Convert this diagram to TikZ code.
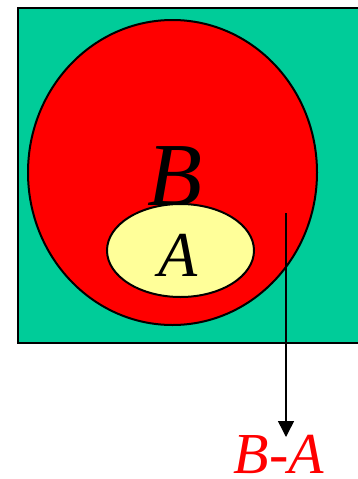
\documentclass[tikz,border=0pt]{standalone}
\usepackage{fontspec}
\setmainfont{Liberation Serif}
\usetikzlibrary{arrows.meta}
\definecolor{setgreen}{HTML}{00CC99}
\definecolor{setred}{HTML}{FF0000}
\definecolor{setyellow}{HTML}{FFFF99}
\begin{document}
\begin{tikzpicture}[x=1pt,y=-1pt,>=Stealth,
  outline/.style={draw=black,line width=2pt},
  setlabel/.style={inner sep=0pt,anchor=base}]
 \useasboundingbox (0,0) rectangle (358,479);
 \fill[setgreen] (18,8) rectangle (365,343);
 \draw[line width=2pt] (365,8) -- (18,8) -- (18,343) -- (365,343);
 \draw[outline,fill=setred] (172.5,172.5) ellipse [x radius=144.5,y radius=152.5];
 \node[setlabel,font=\itshape\fontsize{90}{90}\selectfont] (b) at (175,205) {B};
 \draw[outline,fill=setyellow] (180.5,250.5) ellipse [x radius=73.5,y radius=46.5];
 \node[setlabel,font=\itshape\fontsize{64}{64}\selectfont] (a) at (178,276) {A};
 \coordinate (start) at (286,213);
 \node[setlabel,text=setred,font=\itshape\fontsize{58}{58}\selectfont] (ba) at (279,473) {B-A};
 \coordinate (tip) at (286,437);
 \draw[line width=1.5pt,-{Triangle[length=16pt,width=16pt]}] (start) -- (tip);
\end{tikzpicture}
\end{document}
